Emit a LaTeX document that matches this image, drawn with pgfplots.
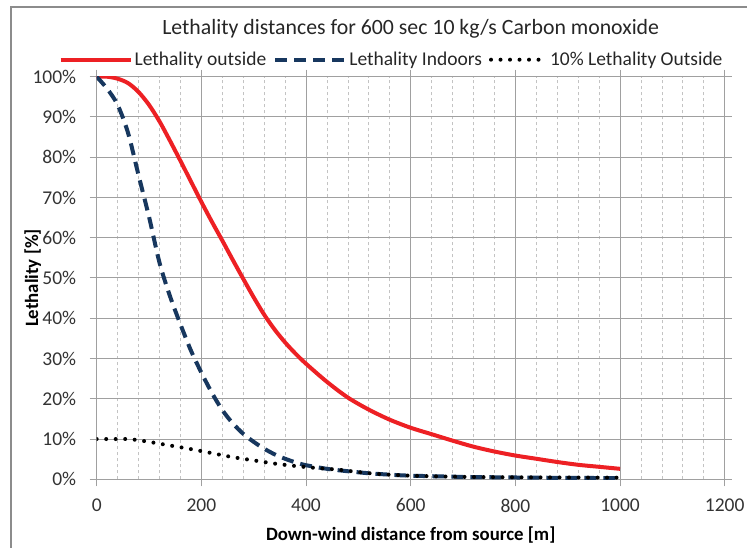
\documentclass[border=0pt]{standalone}
\usepackage{pgfplots}
\pgfplotsset{compat=1.18}
\usepackage{fontspec}
\setmainfont{Carlito}
\definecolor{redl}{RGB}{237,32,36}
\definecolor{navy}{RGB}{23,55,94}
\definecolor{gridc}{RGB}{160,160,160}
\definecolor{minorc}{RGB}{195,195,195}
\definecolor{bordc}{RGB}{140,140,140}

\pgfplotstableread{
x y
0 100
20 100
40 99.5
60 98.4
80 96.2
100 93.0
120 88.9
140 84.1
160 79.1
180 74.0
200 68.9
220 64
240 59.3
260 54.5
280 49.8
300 45.2
320 40.9
340 37.2
360 34.0
380 31.2
400 28.7
440 24.2
480 20.3
520 17.3
560 14.8
600 12.8
640 11.2
680 9.6
720 8.1
760 6.9
800 5.9
840 5.1
880 4.3
920 3.6
960 3.1
1000 2.6
}\outside

\pgfplotstableread{
x y
0 100
20 97
40 93
60 86
80 75.5
100 65.2
120 53.8
140 45.5
160 38.5
180 32
200 26.5
220 21.5
240 17.2
260 13.9
280 11.3
300 9.3
320 7.6
340 6.2
360 5.1
380 4.2
400 3.5
440 2.6
480 2
520 1.5
560 1.15
600 0.9
700 0.6
800 0.45
900 0.35
1000 0.3
}\indoors

\pgfplotstableread{
x y
0 10
40 10
60 10
80 9.7
100 9.3
140 8.4
180 7.5
220 6.5
260 5.5
300 4.7
340 3.9
380 3.3
420 2.8
460 2.4
500 1.8
540 1.3
600 0.9
700 0.6
800 0.5
900 0.45
1000 0.4
}\tenpct

\begin{document}
\begin{tikzpicture}[x=1pt,y=1pt]
\useasboundingbox (-96.7,-68.7) rectangle (650.3,479.3);
\draw[bordc, line width=2pt] (-85.7,-75) -- (-85.7,472.6) -- (655,472.6);
\begin{axis}[
  at={(0,0)}, anchor=south west,
  scale only axis, width=628pt, height=402.6pt,
  xmin=0, xmax=1200, ymin=0, ymax=100,
  xtick={0,200,...,1200}, minor x tick num=4,
  ytick={0,10,...,100},
  yticklabel={\pgfmathprintnumber{\tick}\%},
  /pgf/number format/assume math mode=true,
  /pgf/number format/1000 sep={},
  grid=both,
  major grid style={gridc, line width=1pt},
  minor grid style={minorc, dash pattern=on 3pt off 3pt, line width=0.8pt},
  axis line style={gridc, line width=1pt},
  tick align=outside, major tick length=7pt, minor tick length=0pt,
  tick style={gridc, line width=1pt},
  tick label style={font=\fontsize{19.5}{22}\selectfont, text=black!80},
  xticklabel style={yshift=-9pt},
  yticklabel style={xshift=-10pt},
  title={Lethality distances for 600 sec 10 kg/s Carbon monoxide},
  title style={at={(0.5,1)}, anchor=center, yshift=42pt, font=\fontsize{21.8}{24}\selectfont, text=black!85},
  xlabel={\bfseries Down-wind distance from source [m]},
  xlabel style={at={(axis description cs:0.5,0)}, anchor=center, yshift=-55.5pt, font=\fontsize{18.8}{22}\selectfont},
  ylabel={\bfseries Lethality [\%]},
  ylabel style={at={(axis description cs:-0.102,0.5)}, anchor=center, font=\fontsize{18.8}{22}\selectfont},
  legend columns=3,
  legend style={at={(1,1)}, anchor=east, yshift=17pt, draw=none, fill=none,
    inner xsep=0pt, font=\fontsize{19.5}{22}\selectfont, text=black!85,
    /tikz/every even column/.append style={column sep=5pt}},
  legend image code/.code={\draw[#1] (0pt,0pt) -- (70pt,0pt);},
]
\addplot[redl, line width=4pt, line join=round, smooth] table[x=x,y=y] {\outside};
\addlegendentry{Lethality outside}
\addplot[navy, line width=4pt, dash pattern=on 12pt off 7pt, smooth] table[x=x,y=y] {\indoors};
\addlegendentry{Lethality Indoors}
\addplot[black, line width=4pt, line cap=round, dash pattern=on 0pt off 9.5pt, smooth,
  legend image code/.code={\draw[black, line width=4pt, line cap=round, dash pattern=on 0pt off 9.5pt] (0pt,0pt) -- (55pt,0pt);}] table[x=x,y=y] {\tenpct};
\addlegendentry{10\% Lethality Outside}
\end{axis}
\end{tikzpicture}
\end{document}
